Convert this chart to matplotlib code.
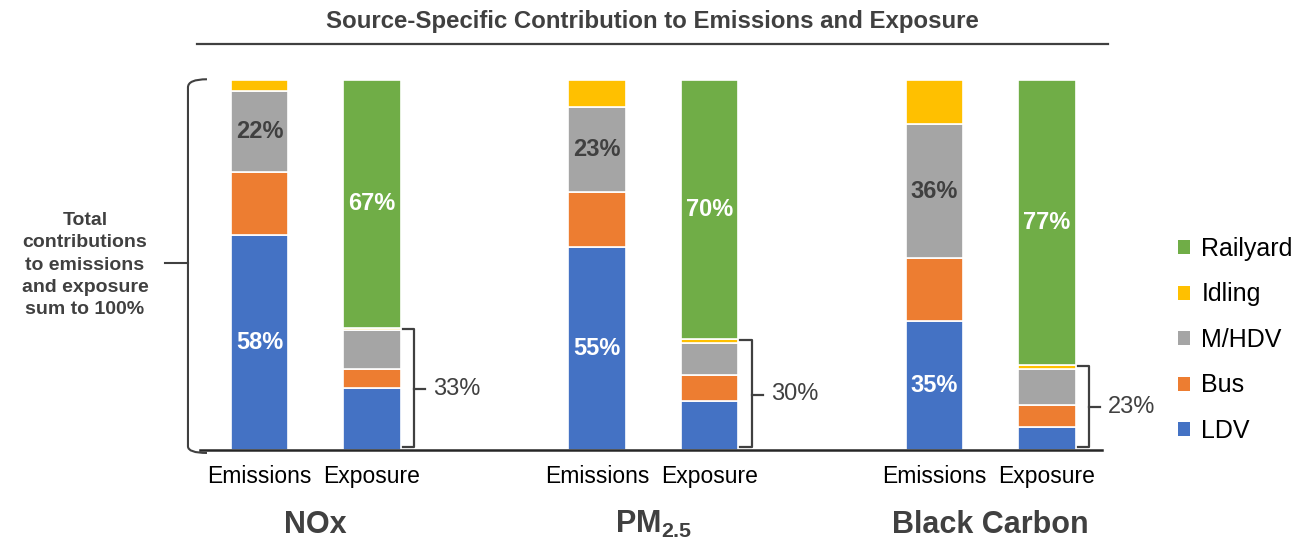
"""Stacked bars: source-specific shares of emissions and exposure."""

import matplotlib.pyplot as plt
from matplotlib.lines import Line2D
from matplotlib.patches import Patch, PathPatch
from matplotlib.path import Path
from matplotlib.transforms import blended_transform_factory

plt.rcParams["font.family"] = ["Liberation Sans", "DejaVu Sans"]
plt.rcParams["mathtext.fontset"] = "custom"
plt.rcParams["mathtext.bf"] = "Liberation Sans:bold"
plt.rcParams["mathtext.rm"] = "Liberation Sans"

pollutants = ["NOx", "PM2.5", "Black Carbon"]
sources = ["LDV", "Bus", "M/HDV", "Idling", "Railyard"]
colors = ["#4472C4", "#ED7D31", "#A5A5A5", "#FFC000", "#70AD47"]

# shares in percent, one entry per pollutant
emis_ldv = [58, 55, 35]
emis_bus = [17.1, 14.8, 17]
emis_mhdv = [22, 23, 36]
emis_idling = [2.9, 7.2, 12]
emis_railyard = [0, 0, 0]

expo_ldv = [16.8, 13.3, 6.3]
expo_bus = [5.0, 6.9, 5.9]
expo_mhdv = [10.5, 8.6, 9.8]
expo_idling = [0.7, 1.2, 1.0]
expo_railyard = [67, 70, 77]

emissions = [emis_ldv, emis_bus, emis_mhdv, emis_idling, emis_railyard]
exposure = [expo_ldv, expo_bus, expo_mhdv, expo_idling, expo_railyard]

DARK = "#404040"
WIDTH = 0.51

fig = plt.figure(figsize=(12.94, 5.41), dpi=100)
ax = fig.add_axes([200 / 1294, 91 / 541, 902 / 1294, 370 / 541])


def draw_stack(x, shares, g, labelled):
    """Stack one bar; `labelled` maps source -> text colour for printed values."""
    bottom = 0
    for src, col, vals in zip(sources, colors, shares):
        v = vals[g]
        if v > 0:
            ax.bar(x, v, WIDTH, bottom=bottom, color=col,
                   edgecolor="white", linewidth=1.2)
            if src in labelled:
                ax.text(x, bottom + v / 2, f"{v:.0f}%", ha="center",
                        va="center", fontsize=17, fontweight="bold",
                        color=labelled[src])
        bottom += v


xticks, xlabels = [], []
for g in range(len(pollutants)):
    xe, xx = 3 * g, 3 * g + 1
    draw_stack(xe, emissions, g, {"LDV": "white", "M/HDV": DARK})
    draw_stack(xx, exposure, g, {"Railyard": "white"})
    xticks += [xe, xx]
    xlabels += ["Emissions", "Exposure"]

    # square bracket around the non-railyard part of the exposure bar
    rest = 100 - expo_railyard[g]
    xr = xx + WIDTH / 2
    ax.plot([xr + 0.02, xr + 0.12, xr + 0.12, xr + 0.02],
            [rest - 0.3, rest - 0.3, 0.8, 0.8],
            color=DARK, lw=1.6, clip_on=False)
    ax.plot([xr + 0.12, xr + 0.22], [rest / 2, rest / 2],
            color=DARK, lw=1.6, clip_on=False)
    ax.text(xr + 0.29, rest / 2, f"{rest:.0f}%", ha="left", va="center",
            fontsize=17, color=DARK)

ax.set_xlim(-0.529, 7.489)
ax.set_ylim(0, 100)
ax.set_xticks(xticks, xlabels, fontsize=16.5, color="black")
ax.tick_params(axis="x", length=0, pad=11)
ax.set_yticks([])
for side in ["top", "right", "left"]:
    ax.spines[side].set_visible(False)
ax.spines["bottom"].set_color("#262626")
ax.spines["bottom"].set_linewidth(1.8)

# pollutant names under each pair of bars
tr = blended_transform_factory(ax.transData, fig.transFigure)
group_names = ["NOx", "PM$_{\\mathbf{2.5}}$", "Black Carbon"]
for g, name in enumerate(group_names):
    ax.text(3 * g + 0.5, 8 / 541, name, transform=tr, ha="center",
            va="baseline", fontsize=22, fontweight="bold", color=DARK)

# curly brace on the left spanning the full 0-100 % range
x0, xh = -0.636, -0.467
verts = [(xh, 100.2), (x0, 100.2), (x0, 98.0), (x0, 1.0),
         (x0, -0.8), (xh, -0.8)]
codes = [Path.MOVETO, Path.CURVE3, Path.CURVE3, Path.LINETO,
         Path.CURVE3, Path.CURVE3]
ax.add_patch(PathPatch(Path(verts, codes), fill=False, edgecolor=DARK,
                       lw=1.5, clip_on=False))
ax.plot([x0, -0.84], [50.5, 50.5], color=DARK, lw=1.5, clip_on=False)

fig.text(85 / 1294, 1 - 265 / 541,
         "Total\ncontributions\nto emissions\nand exposure\nsum to 100%",
         ha="center", va="center", fontsize=14, fontweight="bold",
         color=DARK, linespacing=1.42)

# title with rule underneath
fig.text(652 / 1294, 1 - 28 / 541,
         "Source-Specific Contribution to Emissions and Exposure",
         ha="center", va="baseline", fontsize=17.3, fontweight="bold",
         color=DARK)
fig.add_artist(Line2D([197 / 1294, 1108 / 1294], [1 - 43.5 / 541] * 2,
                      color=DARK, lw=1.6))

handles = [Patch(facecolor=c, label=s) for s, c in zip(sources, colors)]
fig.legend(handles=handles[::-1], loc="center left",
           bbox_to_anchor=(1165 / 1294, 1 - 340 / 541), frameon=False,
           fontsize=18, handlelength=0.5, handleheight=0.5,
           handletextpad=0.45, labelspacing=0.86, borderpad=0)

fig.savefig("out.png", dpi=100)
